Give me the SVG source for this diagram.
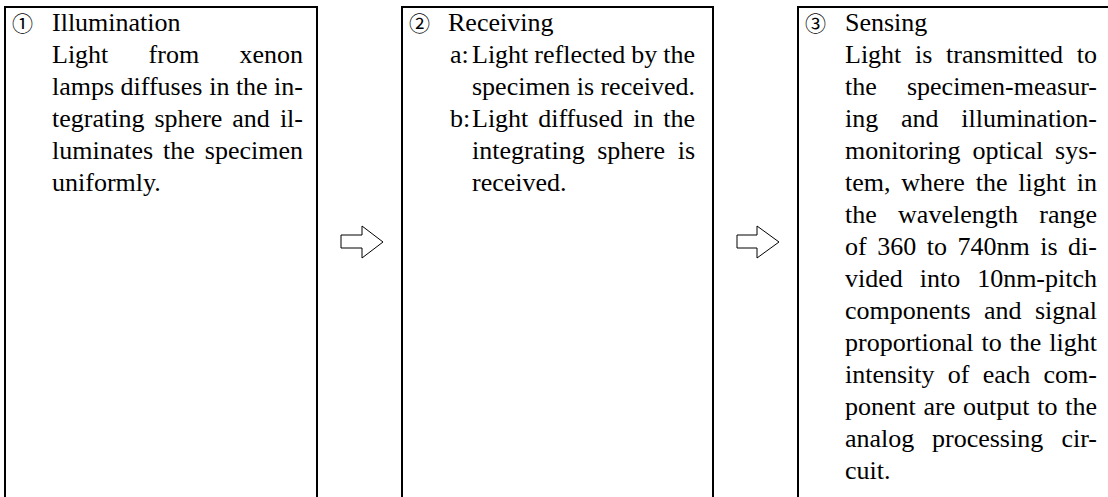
<svg xmlns="http://www.w3.org/2000/svg" width="1108" height="497" viewBox="0 0 1108 497">
<style>
.box{fill:none;stroke:#000;stroke-width:2}
.arr{fill:#fff;stroke:#000;stroke-width:1}
text{font-family:"Liberation Serif","Times New Roman",serif;font-size:26px;fill:#000}
.num{font-family:"Noto Sans CJK JP","DejaVu Sans",sans-serif;font-size:21px}
.e{text-anchor:end}
</style>
<rect width="1108" height="497" fill="#fff"/>
<g id="connectors">
<path class="arr" d="M341,235 H362 V226 L383,242 L362,258 V248 H341 Z"/>
<path class="arr" d="M737,235 H757 V226 L779,242 L757,258 V248 H737 Z"/>
</g>
<g id="node1">
<path class="box" d="M5,498 V7 H317 V498"/>
<text class="num" x="12" y="31">①</text>
<text x="52" y="31">Illumination</text>
<text y="63"><tspan x="52">Light</tspan><tspan x="148.6">from</tspan><tspan class="e" x="303">xenon</tspan></text>
<text y="95"><tspan x="52">lamps</tspan><tspan x="120.5">diffuses</tspan><tspan x="209.3">in</tspan><tspan x="235.9">the</tspan><tspan class="e" x="303">in-</tspan></text>
<text y="127"><tspan x="52">tegrating</tspan><tspan x="154.5">sphere</tspan><tspan x="232.3">and</tspan><tspan class="e" x="303">il-</tspan></text>
<text y="159"><tspan x="52">luminates</tspan><tspan x="163.1">the</tspan><tspan class="e" x="303">specimen</tspan></text>
<text x="52" y="191">uniformly.</text>
</g>
<g id="node2">
<path class="box" d="M402,498 V7 H713 V498"/>
<text class="num" x="409" y="31">②</text>
<text x="448" y="31">Receiving</text>
<text x="450" y="63">a:</text>
<text y="63"><tspan x="472">Light</tspan><tspan x="534.3">reflected</tspan><tspan x="631.3">by</tspan><tspan class="e" x="695">the</tspan></text>
<text y="95"><tspan x="472">specimen</tspan><tspan x="576.7">is</tspan><tspan class="e" x="695">received.</tspan></text>
<text x="450" y="127">b:</text>
<text y="127"><tspan x="472">Light</tspan><tspan x="538.2">diffused</tspan><tspan x="633.2">in</tspan><tspan class="e" x="695">the</tspan></text>
<text y="159"><tspan x="472">integrating</tspan><tspan x="597.2">sphere</tspan><tspan class="e" x="695">is</tspan></text>
<text x="472" y="191">received.</text>
</g>
<g id="node3">
<path class="box" d="M798,498 V7 H1110"/>
<text class="num" x="805" y="31">③</text>
<text x="845" y="31">Sensing</text>
<text y="63"><tspan x="845">Light</tspan><tspan x="915">is</tspan><tspan x="946.1">transmitted</tspan><tspan class="e" x="1097">to</tspan></text>
<text y="95"><tspan x="845">the</tspan><tspan class="e" x="1097">specimen-measur-</tspan></text>
<text y="127"><tspan x="845">ing</tspan><tspan x="901">and</tspan><tspan class="e" x="1097">illumination-</tspan></text>
<text y="159"><tspan x="845">monitoring</tspan><tspan x="972.5">optical</tspan><tspan class="e" x="1097">sys-</tspan></text>
<text y="191"><tspan x="845">tem,</tspan><tspan x="901.3">where</tspan><tspan x="975.7">the</tspan><tspan x="1018.3">light</tspan><tspan class="e" x="1097">in</tspan></text>
<text y="223"><tspan x="845">the</tspan><tspan x="898.1">wavelength</tspan><tspan class="e" x="1097">range</tspan></text>
<text y="255"><tspan x="845">of</tspan><tspan x="877.2">360</tspan><tspan x="926.7">to</tspan><tspan x="957.5">740nm</tspan><tspan x="1040.2">is</tspan><tspan class="e" x="1097">di-</tspan></text>
<text y="287"><tspan x="845">vided</tspan><tspan x="919.7">into</tspan><tspan class="e" x="1097">10nm-pitch</tspan></text>
<text y="319"><tspan x="845">components</tspan><tspan x="984">and</tspan><tspan class="e" x="1097">signal</tspan></text>
<text y="351"><tspan x="845">proportional</tspan><tspan x="981.5">to</tspan><tspan x="1009.6">the</tspan><tspan class="e" x="1097">light</tspan></text>
<text y="383"><tspan x="845">intensity</tspan><tspan x="947.8">of</tspan><tspan x="982.7">each</tspan><tspan class="e" x="1097">com-</tspan></text>
<text y="415"><tspan x="845">ponent</tspan><tspan x="923.5">are</tspan><tspan x="963">output</tspan><tspan x="1037.3">to</tspan><tspan class="e" x="1097">the</tspan></text>
<text y="447"><tspan x="845">analog</tspan><tspan x="932">processing</tspan><tspan class="e" x="1097">cir-</tspan></text>
<text x="845" y="479">cuit.</text>
</g>
</svg>
